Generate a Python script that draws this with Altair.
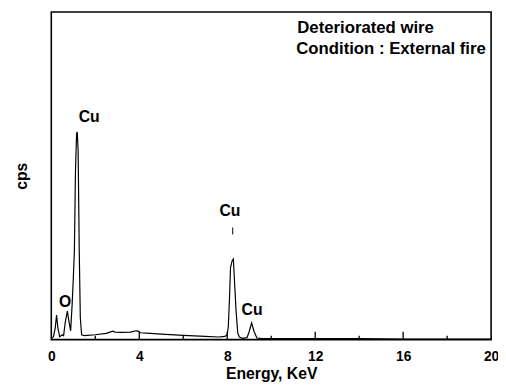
import altair as alt
import pandas as pd

# Spectrum (energy in keV, counts in arbitrary units 0-100)
energy = [0.0, 0.1, 0.18, 0.24, 0.3, 0.38, 0.5, 0.56, 0.63, 0.73, 0.8, 0.88,
          0.95, 1.0, 1.05, 1.1, 1.15, 1.18, 1.22, 1.27, 1.32, 1.38, 1.5,
          2.0, 2.5, 2.8, 2.9, 3.2, 3.6, 3.85, 3.95, 4.05, 4.5, 5.0, 6.0,
          7.0, 7.6, 7.9, 8.0, 8.05, 8.1, 8.15, 8.22, 8.28, 8.33, 8.4, 8.48,
          8.55, 8.7, 8.9, 9.0, 9.11, 9.22, 9.35, 9.6, 10.0, 12.0, 14.0,
          16.0, 18.0, 20.0]
cps = [0.3, 0.9, 3.6, 7.5, 3.6, 0.9, 1.5, 1.2, 5.1, 8.7, 5.7, 2.7,
       11.0, 18.6, 27.0, 51.6, 62.8, 63.4, 57.7, 27.6, 6.6, 1.5, 1.2,
       1.5, 1.9, 2.6, 2.3, 2.2, 2.3, 2.7, 2.6, 2.1, 1.9, 1.7, 1.3,
       1.0, 0.8, 1.0, 1.5, 4.0, 12.0, 22.0, 24.0, 24.6, 18.0, 9.0, 2.0,
       0.8, 0.4, 0.6, 2.5, 5.1, 2.5, 0.5, 0.3, 0.3, 0.3, 0.3,
       0.2, 0.2, 0.2]

tick_labels = [0, 4, 8, 12, 16, 20]
major_ticks = [4, 8, 12, 16]
minor_ticks = [2, 6, 10, 14, 18]

peak_text = ["O", "Cu", "Cu", "Cu"]
peak_energy = [0.63, 1.72, 8.12, 9.13]
peak_cps = [11.4, 67.9, 39.3, 9.0]

note_lines = ["Deteriorated wire", "Condition : External fire"]

FONT = "Liberation Sans"

spec = pd.DataFrame({"energy": energy, "cps": cps})
xscale = alt.Scale(domain=[0, 20], nice=False, zero=False)
yscale = alt.Scale(domain=[0, 100], nice=False)

line = alt.Chart(spec).mark_line(color="black", strokeWidth=1.2).encode(
    x=alt.X("energy:Q", scale=xscale,
            axis=alt.Axis(title="Energy, KeV", values=tick_labels, ticks=False,
                          tickSize=0, domain=False, grid=False, labelFont=FONT,
                          labelFontSize=14, labelFontWeight="bold",
                          labelColor="black", labelPadding=10, labelFlush=False,
                          titleFont=FONT, titleFontSize=16, titleFontWeight="bold",
                          titleColor="black", titlePadding=3)),
    y=alt.Y("cps:Q", scale=yscale,
            axis=alt.Axis(title="cps", labels=False, ticks=False, domain=False,
                          grid=False, titleFont=FONT, titleFontSize=16,
                          titleFontWeight="bold", titleColor="black",
                          titlePadding=22)),
)

major = alt.Chart(pd.DataFrame({"t": major_ticks})).mark_rule(
    color="black", strokeWidth=1.3).encode(
    x=alt.X("t:Q", scale=xscale), y=alt.value(333), y2=alt.value(325))
minor = alt.Chart(pd.DataFrame({"t": minor_ticks})).mark_rule(
    color="black", strokeWidth=1.3).encode(
    x=alt.X("t:Q", scale=xscale), y=alt.value(333), y2=alt.value(329))

labels = alt.Chart(pd.DataFrame({"txt": peak_text, "e": peak_energy,
                                 "c": peak_cps})).mark_text(
    font=FONT, fontSize=16, fontWeight="bold", color="black",
    align="center", baseline="middle").encode(
    x=alt.X("e:Q", scale=xscale), y=alt.Y("c:Q", scale=yscale), text="txt:N")

marker = alt.Chart(pd.DataFrame({"e": [8.25], "c": [32.1], "c2": [34.2]})).mark_rule(
    color="black", strokeWidth=1).encode(
    x=alt.X("e:Q", scale=xscale), y=alt.Y("c:Q", scale=yscale), y2="c2:Q")

note1 = alt.Chart(pd.DataFrame({"txt": [note_lines[0]]})).mark_text(
    font=FONT, fontSize=17, fontWeight="bold", color="black",
    align="left", baseline="middle").encode(
    x=alt.value(250), y=alt.value(16), text="txt:N")
note2 = alt.Chart(pd.DataFrame({"txt": [note_lines[1]]})).mark_text(
    font=FONT, fontSize=17, fontWeight="bold", color="black",
    align="left", baseline="middle").encode(
    x=alt.value(249), y=alt.value(38), text="txt:N")

chart = alt.layer(line, major, minor, labels, marker, note1, note2).properties(
    width=447, height=333,
    autosize=alt.AutoSizeParams(type="none"),
    padding={"left": 44, "top": 1, "right": 7, "bottom": 40},
    background="white",
).configure_view(stroke="black", strokeWidth=1.6)

chart.save("out.html", embed_options={"renderer": "svg", "actions": False})
